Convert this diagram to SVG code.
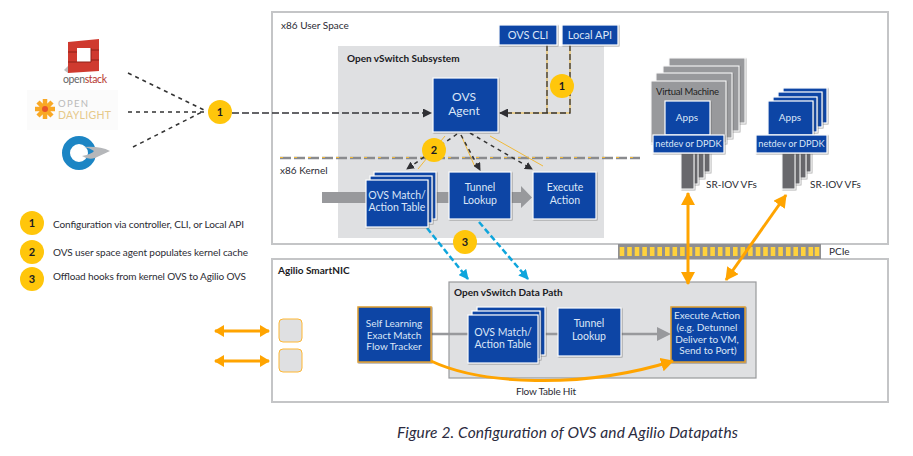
<svg xmlns="http://www.w3.org/2000/svg" width="913" height="456" viewBox="0 0 913 456">
<style>
text{font-family:"Lato","Liberation Sans",sans-serif;font-size:10px;fill:#2b2b33}
.b{font-weight:700;fill:#1a1a22}
.w{fill:#dbe6f7;text-anchor:middle}
.w12{fill:#dbe6f7;text-anchor:middle;font-size:12px}
.nd{fill:#dbe6f7;text-anchor:middle;font-size:9.200px}
.n{fill:#0a45a5;stroke:#fff;stroke-width:1.2;filter:url(#s)}
.frame{fill:#fff;stroke:#c4c5c7;stroke-width:2}
.sub{fill:#dfe0e2}
.vm{fill:#98999c;stroke:#fff;stroke-width:1;filter:url(#s)}
.vf{fill:#67686c;stroke:#fff;stroke-width:1;filter:url(#s)}
.dash{fill:none;stroke:#333;stroke-width:1.5;stroke-dasharray:4 4}
.dk{fill:none;stroke:#333337;stroke-width:1.300;stroke-dasharray:6 3}
.dkl{fill:none;stroke:#333337;stroke-width:1.700;stroke-dasharray:7 3}
.y{fill:none;stroke:#f0b93a;stroke-width:1}
.bl{fill:none;stroke:#0ea5dc;stroke-width:2.500;stroke-dasharray:6 3}
.o{fill:none;stroke:#ffa400;stroke-width:3}
.c{fill:#ffc60b}
.cn{font-weight:700;text-anchor:middle;font-size:11px;fill:#1a1a22}
</style>
<defs>
<filter id="s" x="-10%" y="-10%" width="125%" height="125%"><feDropShadow dx="0.8" dy="0.8" stdDeviation="0.7" flood-color="#555" flood-opacity="0.6"/></filter>
<marker id="ak" markerWidth="8" markerHeight="8" refX="7" refY="4" orient="auto-start-reverse" markerUnits="userSpaceOnUse"><path d="M0 0L8 4L0 8z" fill="#2f2f33"/></marker>
<marker id="ak2" markerWidth="9" markerHeight="9" refX="8" refY="4.5" orient="auto" markerUnits="userSpaceOnUse"><path d="M0 0L9 4.5L0 9z" fill="#2f2f33"/></marker>
<marker id="ab" markerWidth="10" markerHeight="10" refX="9" refY="5" orient="auto" markerUnits="userSpaceOnUse"><path d="M0 0L10 5L0 10z" fill="#0ea5dc"/></marker>
<marker id="ao" markerWidth="14" markerHeight="14" refX="12" refY="7" orient="auto-start-reverse" markerUnits="userSpaceOnUse"><path d="M0 0L13 7L0 14z" fill="#ffa400"/></marker>
<marker id="ao2" markerWidth="10" markerHeight="12" refX="9" refY="6" orient="auto-start-reverse" markerUnits="userSpaceOnUse"><path d="M0 0L10 6L0 12z" fill="#ffa400"/></marker>
</defs>
<rect width="913" height="456" fill="#fff"/>

<g id="frame-user"><rect class="frame" x="272" y="12" width="616" height="232"/><text x="281" y="29">x86 User Space</text></g>
<g id="frame-nic"><rect class="frame" x="272" y="259" width="616" height="143"/><text class="b" x="278" y="274">Agilio SmartNIC</text></g>
<g id="subsystem"><rect class="sub" x="338" y="46" width="266" height="192"/><text class="b" x="347" y="62">Open vSwitch Subsystem</text><text x="280" y="174">x86 Kernel</text></g>
<g id="datapath"><rect x="449" y="282" width="307" height="96" fill="#dfe0e2" stroke="#98999c" stroke-width="1.2"/><text class="b" x="454" y="296">Open vSwitch Data Path</text></g>

<g id="pcie"><rect x="618" y="244" width="203" height="15" fill="#8f8f92"/>
<path d="M622 247v9M629.500 247v9M637 247v9M644.600 247v9M652.200 247v9M659.700 247v9M667.300 247v9M674.800 247v9M682.400 247v9M690 247v9M697.500 247v9M705 247v9M712.600 247v9M720.200 247v9M727.700 247v9M735.300 247v9M742.800 247v9M750.400 247v9M758 247v9M765.500 247v9M773 247v9M780.600 247v9M788.200 247v9M795.700 247v9M803.300 247v9M810.800 247v9M817 247v9" stroke="#ffd23c" stroke-width="4.600" fill="none"/>
<text x="829" y="255">PCIe</text></g>

<g id="connectors">
<path d="M280 158H640" stroke="#8a8b8e" stroke-width="2.600" stroke-dasharray="11 3" fill="none"/>
<path d="M280 157.500H640" class="y" stroke-dasharray="3 11"/>
<path d="M322 192H521V186L532 197.500L521 208V203H322z" fill="#98999c"/>
<path d="M128 73L204 110" class="dash"/><path d="M128 112H205" class="dash"/><path d="M133 147L204 111" class="dash"/>
<path d="M232 113H431" class="dkl" marker-end="url(#ak2)"/>
<path d="M547 45V113M570 45V113H500" class="y"/>
<path d="M547 45V113M570 45V113H500" class="dk" marker-end="url(#ak2)"/>
<path d="M445 136L418 169M461 135L475 167M490 136L543 166" class="y"/>
<path d="M457 134L407 169" class="dash" marker-end="url(#ak)"/>
<path d="M461 135L480 170" class="dash" marker-end="url(#ak)"/>
<path d="M470 133L532 169" class="dash" marker-end="url(#ak)"/>
<path d="M427 228L468 279" class="bl" marker-end="url(#ab)"/>
<path d="M479 222L528 279" class="bl" marker-end="url(#ab)"/>
<path d="M688 193V284" class="o" marker-start="url(#ao)" marker-end="url(#ao)"/>
<path d="M786 195L726 280" class="o" marker-start="url(#ao)" marker-end="url(#ao)"/>
<path d="M215 331H269" class="o" marker-start="url(#ao2)" marker-end="url(#ao2)"/>
<path d="M215 361H269" class="o" marker-start="url(#ao2)" marker-end="url(#ao2)"/>
<path d="M431 334H660" stroke="#98999c" stroke-width="2.400" fill="none"/>
<path d="M657 327L671 334L657 341z" fill="#98999c"/>
</g>

<g id="openstack"><path d="M68 42L99 39V71L68 73z" fill="#cf3a2f"/><path d="M64 70L68 66V73z" fill="#bbb"/><rect x="77" y="48" width="14" height="14" fill="#fff"/><path d="M91 48V62M77 62H91M68 52H77M91 50H99M68 62H77M91 60H99" stroke="#8e2119" stroke-width="1"/>
<text x="63" y="83" style="fill:#666;font-size:10.500px" textLength="44">open<tspan style="fill:#b5392f">stack</tspan></text></g>
<g id="opendaylight"><rect x="27" y="90" width="91" height="40" fill="#fbfbfb"/>
<path d="M45 99V119M35 109H55M38 102L52 116M52 102L38 116" stroke="#f9a825" stroke-width="4.500"/><circle cx="45" cy="109" r="3" fill="#e8542a"/>
<text x="58" y="107" textLength="30" style="fill:#b9b9b9;font-size:9.500px">OPEN</text><text x="58" y="118.500" textLength="53" style="fill:#e6c98a;font-size:10.500px">DAYLIGHT</text></g>
<g id="controller3"><circle cx="79" cy="153" r="13" fill="none" stroke="#1c85c4" stroke-width="8"/><path d="M84 147Q100 146 110 151L95 158Q88 160 82 156Q92 154 94 151Q90 148 84 147z" fill="#b5b7ba"/></g>

<g id="n1top"><circle class="c" cx="220" cy="112" r="12"/><text class="cn" x="220" y="116">1</text></g>
<g id="legend1"><circle class="c" cx="32" cy="223" r="12"/><text class="cn" x="32" y="227">1</text><text x="53" y="228" textLength="191">Configuration via controller, CLI, or Local API</text></g>
<g id="legend2"><circle class="c" cx="32" cy="252" r="12"/><text class="cn" x="32" y="256">2</text><text x="53" y="256" textLength="195">OVS user space agent populates kernel cache</text></g>
<g id="legend3"><circle class="c" cx="32" cy="279" r="12"/><text class="cn" x="32" y="283">3</text><text x="53" y="280" textLength="193">Offload hooks from kernel OVS to Agilio OVS</text></g>

<g id="ovs-cli"><rect class="n" x="499" y="25" width="58" height="20"/><text class="w" x="528" y="39" style="font-size:11px">OVS CLI</text></g>
<g id="local-api"><rect class="n" x="562" y="25" width="56" height="20"/><text class="w" x="590" y="39" style="font-size:11px">Local API</text></g>
<g id="ovs-agent"><rect class="n" x="433" y="78" width="65" height="54"/><text class="w12" x="464" y="101">OVS</text><text class="w12" x="464" y="115">Agent</text></g>
<g id="kernel-table"><rect class="n" x="374" y="172" width="62" height="47"/><rect class="n" x="370" y="176" width="62" height="47"/><rect class="n" x="366" y="180" width="62" height="47"/><text class="w" x="397" y="199" style="font-size:10.500px">OVS Match/</text><text class="w" x="397" y="211" style="font-size:10.500px">Action Table</text></g>
<g id="kernel-tunnel"><rect class="n" x="449" y="172" width="62" height="47"/><text class="w" x="480" y="191" style="font-size:10.500px">Tunnel</text><text class="w" x="480" y="204" style="font-size:10.500px">Lookup</text></g>
<g id="kernel-exec"><rect class="n" x="533" y="172" width="63" height="47"/><text class="w" x="565" y="191" style="font-size:10.500px">Execute</text><text class="w" x="565" y="204" style="font-size:10.500px">Action</text></g>
<g id="n2"><circle class="c" cx="434" cy="150" r="12"/><text class="cn" x="434" y="154">2</text></g>
<g id="n1api"><circle class="c" cx="562" cy="86" r="12"/><text class="cn" x="562" y="90">1</text></g>
<g id="n3"><circle class="c" cx="465" cy="242" r="12"/><text class="cn" x="465" y="246">3</text></g>

<g id="vm-stack">
<rect class="vf" x="696" y="153" width="14" height="19"/><rect class="vf" x="691" y="153" width="13" height="25"/><rect class="vf" x="686" y="153" width="12" height="31"/><rect class="vf" x="681" y="153" width="13" height="36"/>
<rect class="vm" x="669" y="58" width="76" height="65"/><rect class="vm" x="663" y="66" width="76" height="65"/><rect class="vm" x="656" y="73" width="76" height="65"/><rect class="vm" x="651" y="81" width="75" height="62"/>
<text x="656" y="95" textLength="63" style="fill:#222;font-size:9.500px">Virtual Machine</text>
<rect class="n" x="665" y="101" width="45" height="34"/><text class="w" x="687" y="121">Apps</text>
<rect class="n" x="653" y="135" width="71" height="18"/><text class="nd" x="688.500" y="147">netdev or DPDK</text>
<text x="706" y="188">SR-IOV VFs</text></g>
<g id="apps-stack">
<rect class="vf" x="797" y="153" width="14" height="19"/><rect class="vf" x="792" y="153" width="14" height="25"/><rect class="vf" x="787" y="153" width="13" height="31"/><rect class="vf" x="782" y="153" width="13" height="36"/>
<rect class="n" x="783" y="88" width="44" height="35"/><rect class="n" x="778" y="92" width="44" height="35"/><rect class="n" x="773" y="97" width="44" height="35"/><rect class="n" x="768" y="101" width="45" height="34"/><text class="w" x="790" y="121">Apps</text>
<rect class="n" x="756" y="135" width="71" height="18"/><text class="nd" x="791.500" y="147">netdev or DPDK</text>
<text x="810" y="188">SR-IOV VFs</text></g>

<g id="port1"><rect x="279" y="319" width="23" height="23" rx="4" fill="#dfe0e2" stroke="#ffb733" stroke-width="1"/></g>
<g id="port2"><rect x="279" y="349" width="23" height="23" rx="4" fill="#dfe0e2" stroke="#ffb733" stroke-width="1"/></g>
<g id="self-learning"><rect x="358" y="307" width="73" height="55" fill="#0a45a5" stroke="#e0a030" stroke-width="1.500" filter="url(#s)"/><text class="w" x="394" y="327">Self Learning</text><text class="w" x="394" y="339">Exact Match</text><text class="w" x="394" y="350">Flow Tracker</text></g>
<g id="nic-table"><rect class="n" x="477" y="307" width="68" height="48"/><rect class="n" x="472" y="311" width="68" height="48"/><rect class="n" x="468" y="315" width="70" height="48"/><text class="w" x="503" y="336" style="font-size:10.500px">OVS Match/</text><text class="w" x="503" y="348" style="font-size:10.500px">Action Table</text></g>
<g id="nic-tunnel"><rect class="n" x="558" y="308" width="63" height="48"/><text class="w" x="589" y="327" style="font-size:10.500px">Tunnel</text><text class="w" x="589" y="340" style="font-size:10.500px">Lookup</text></g>
<g id="nic-exec"><rect x="671" y="307" width="74" height="55" fill="#0a45a5" stroke="#e0a030" stroke-width="1.500" filter="url(#s)"/><text class="w" x="707" y="319">Execute Action</text><text class="w" x="707" y="331">(e.g. Detunnel</text><text class="w" x="707" y="343">Deliver to VM,</text><text class="w" x="708" y="354">Send to Port)</text></g>
<path id="flow-hit" d="M431 361C480 384 580 390 673 361" class="o" marker-end="url(#ao)"/>
<text x="516" y="395" textLength="60">Flow Table Hit</text>
<text x="397" y="438" textLength="341" style="font-size:15.500px;font-style:italic;fill:#2b2b40">Figure 2. Configuration of OVS and Agilio Datapaths</text>
</svg>
